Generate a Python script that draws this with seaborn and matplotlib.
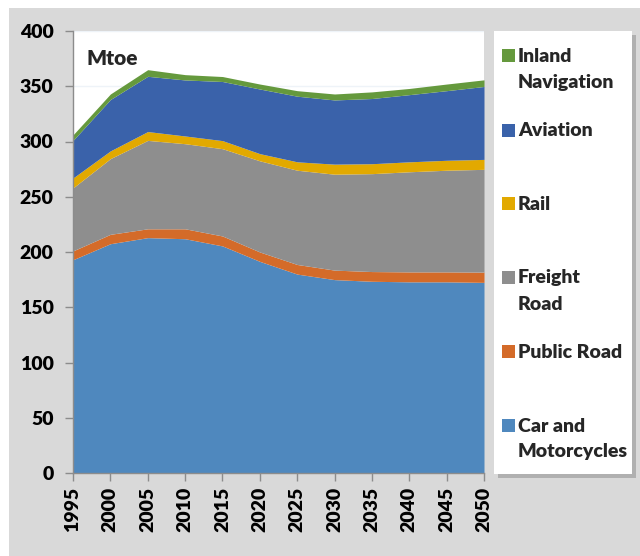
import matplotlib
matplotlib.use("Agg")
import matplotlib.pyplot as plt
import matplotlib.patches as mpatches
import seaborn as sns
import numpy as np

years = [1995, 2000, 2005, 2010, 2015, 2020, 2025, 2030, 2035, 2040, 2045, 2050]
car_moto = [193, 207.5, 213, 212, 205.5, 191.5, 180, 175, 173.5, 173, 173, 172.5]
public_road = [8, 8.5, 8, 9, 9, 8.5, 8.7, 8.6, 8.8, 9, 9, 9.3]
freight_road = [57, 68.5, 80, 77, 79, 82.5, 85.3, 86.8, 88.6, 90.6, 92, 93]
rail = [9, 7, 8, 7, 7.3, 6.5, 7.6, 9.1, 9, 9, 9, 9]
aviation = [34, 46.5, 50, 50.7, 53.5, 58.5, 59.4, 58.1, 59, 60.8, 63, 66]
inland_nav = [5, 5, 6, 4.8, 4.5, 4.5, 5, 5.4, 6, 5.6, 6, 6]

labels = ["Car and\nMotorcycles", "Public Road", "Freight\nRoad", "Rail", "Aviation", "Inland\nNavigation"]
colors = ["#4F88BE", "#D46B29", "#8E8E8E", "#E2A900", "#3A62AA", "#65993D"]
yticks = [0, 50, 100, 150, 200, 250, 300, 350, 400]

sns.set_theme(style="white")
plt.rcParams["font.family"] = ["Lato", "DejaVu Sans"]
WEIGHT = "heavy"

W, H = 640, 556
fig = plt.figure(figsize=(W / 100, H / 100), dpi=100)
fig.patch.set_facecolor("white")
fig.patches.append(mpatches.Rectangle((9 / W, 0), 1 - 9 / W, (H - 8) / H, transform=fig.transFigure,
                                      facecolor="#D9D9D9", edgecolor="none", zorder=-10))

def fx(px):
    return px / W

def fy(py):
    return (H - py) / H

ax = fig.add_axes([fx(73), fy(473), fx(484) - fx(73), fy(31) - fy(473)])
ax.set_facecolor("white")
ax.set_axisbelow(True)
ax.yaxis.grid(True, color="#EEF3F8", linewidth=1)
series = [car_moto, public_road, freight_road, rail, aviation, inland_nav]
ax.stackplot(years, *series, colors=colors, linewidth=0)

ax.set_xlim(1995, 2050)
ax.set_ylim(0, 400)
ax.set_xticks(years)
ax.set_xticklabels([str(y) for y in years], rotation=90, fontsize=14, fontweight=WEIGHT)
ax.set_yticks(yticks)
ax.set_yticklabels([str(v) for v in yticks], fontsize=14, fontweight=WEIGHT)
for s in ["top", "right"]:
    ax.spines[s].set_visible(False)
for s in ["left", "bottom"]:
    ax.spines[s].set_color("#8C8C8C")
    ax.spines[s].set_linewidth(1)
ax.tick_params(axis="both", which="both", length=6, width=1, color="#8C8C8C", direction="out",
               left=True, bottom=True, pad=4, labelcolor="black")
ax.tick_params(axis="y", pad=8)

fig.text(fx(87), fy(65), "Mtoe", fontsize=15, fontweight=WEIGHT, va="baseline", ha="left")

# legend box with shadow
lx0, ly0, lx1, ly1 = 494, 31, 632, 474
fig.patches.append(mpatches.Rectangle((fx(lx0 + 4), fy(ly1 + 4)), fx(lx1) - fx(lx0), fy(ly0) - fy(ly1),
                                      transform=fig.transFigure, facecolor="#A6A6A6", edgecolor="none",
                                      alpha=0.8, zorder=1))
fig.patches.append(mpatches.Rectangle((fx(lx0), fy(ly1)), fx(lx1) - fx(lx0), fy(ly0) - fy(ly1),
                                      transform=fig.transFigure, facecolor="white", edgecolor="none", zorder=2))

centers = [425, 351, 277, 203, 130, 55.5]
for lab, col, cy in zip(labels, colors, centers):
    fig.patches.append(mpatches.Rectangle((fx(502), fy(cy + 6.5)), fx(12.5), 13 / H,
                                          transform=fig.transFigure, facecolor=col, edgecolor="none", zorder=3))
    for i, line in enumerate(lab.split("\n")):
        fig.text(fx(518), fy(cy + 6.5 + 26 * i), line, fontsize=14, fontweight=WEIGHT,
                 va="baseline", ha="left", zorder=4)

fig.savefig("out.png", dpi=100, facecolor=fig.get_facecolor())
